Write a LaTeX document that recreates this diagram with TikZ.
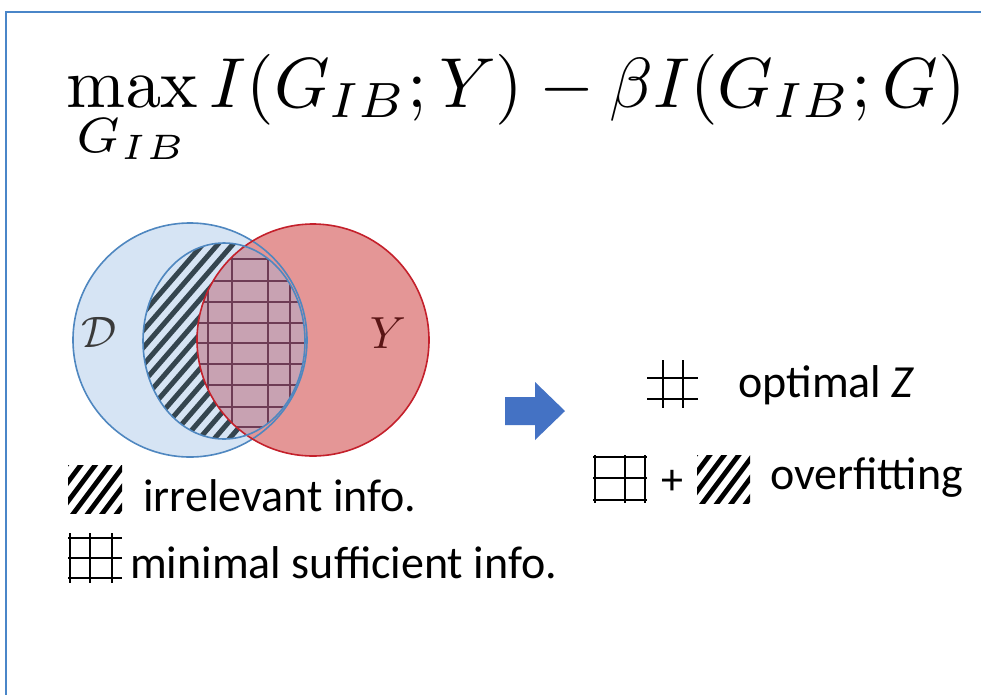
\documentclass[tikz,border=0pt]{standalone}
\usepackage[no-math]{fontspec}
\setmainfont{Carlito}
\definecolor{frameblue}{HTML}{4A86C8}
\definecolor{dfill}{HTML}{D6E4F4}
\definecolor{dline}{HTML}{4F87C0}
\definecolor{yfill}{HTML}{E49696}
\definecolor{yline}{HTML}{C4202B}
\definecolor{mixfill}{HTML}{C8A2B2}
\definecolor{gridc}{HTML}{6E3C55}
\definecolor{stripec}{HTML}{35454F}
\definecolor{arrowblue}{HTML}{4472C4}
\definecolor{dtext}{HTML}{3A3A3A}
\definecolor{ytext}{HTML}{5A1515}
\tikzset{
  legendtext/.style={anchor=base west, inner sep=0pt, font=\fontsize{46}{55}\selectfont},
  iconline/.style={black, line width=2.2pt},
  iconstripe/.style={black, line width=4.8pt},
  venngrid/.style={gridc, line width=1.6pt},
  vennstripe/.style={stripec, line width=5pt}
}
\begin{document}
\begin{tikzpicture}[x=1pt,y=-1pt]
\useasboundingbox (0,0) rectangle (981,694);
\fill[white] (0,0) rectangle (981,694);
\draw[frameblue, line width=2pt] (6,700) -- (6,12) -- (990,12);

% objective
\node[anchor=base west, inner sep=0pt, scale=7.08] (obj) at (65,107)
  {$\displaystyle\max_{G_{IB}} I(G_{IB};Y)-\beta I(G_{IB};G)$};

% Venn diagram
\coordinate (cD) at (190,340);
\coordinate (cY) at (313,340);
\coordinate (cE) at (224,341);
\fill[dfill] (cD) circle (117pt);
\fill[yfill] (cY) circle (116pt);
\begin{scope}
  \clip (cE) ellipse [x radius=81pt, y radius=98pt];
  \fill[dfill] (cE) ellipse [x radius=81pt, y radius=98pt];
  \foreach \k in {-25,...,25}
    \draw[vennstripe] (224+\k*15-130,491) -- (224+\k*15+130,191);
\end{scope}
\begin{scope}
  \clip (cE) ellipse [x radius=81pt, y radius=98pt];
  \clip (cY) circle (116pt);
  \fill[mixfill] (cE) ellipse [x radius=81pt, y radius=98pt];
  \foreach \gx in {208,232,268,290}
    \draw[venngrid] (\gx,230) -- (\gx,450);
  \foreach \gy in {259,281,302,323,343,364,385,407,427}
    \draw[venngrid] (130,\gy) -- (320,\gy);
\end{scope}
\draw[dline, line width=1.6pt] (cD) circle (117pt);
\draw[yline, line width=1.6pt] (cY) circle (116pt);
\draw[dline, line width=1.6pt] (cE) ellipse [x radius=81pt, y radius=98pt];
\node[scale=4.4, text=dtext] (dlab) at (99,332) {$\mathcal{D}$};
\node[scale=4.5, text=ytext] (ylab) at (388,333) {$Y$};

% legend: irrelevant
\begin{scope}
  \clip (68,465) rectangle (122,513);
  \foreach \k in {-3,...,6}
    \draw[iconstripe] (62+\k*14.5-30,530) -- (62+\k*14.5+30,450);
\end{scope}
\node[legendtext] (irr) at (143,511) {irrelevant info.};

% legend: minimal sufficient
\foreach \gx in {70,90,112}
  \draw[iconline] (\gx,533) -- (\gx,583);
\foreach \gy in {538,558,578}
  \draw[iconline] (68,\gy) -- (122,\gy);
\node[legendtext] (min) at (130,578) {minimal sufficient info.};

% arrow
\fill[arrowblue] (505,397) -- (535,397) -- (535,382) -- (565,411)
  -- (535,440) -- (535,425) -- (505,425) -- cycle;

% optimal Z
\foreach \gx in {663,683}
  \draw[iconline] (\gx,360) -- (\gx,408);
\foreach \gy in {378,399}
  \draw[iconline] (647,\gy) -- (698,\gy);
\node[legendtext] (opt) at (738,397) {optimal \textit{Z}};

% overfitting
\foreach \gx in {595,625,645}
  \draw[iconline] (\gx,455) -- (\gx,503);
\foreach \gy in {457,478,500}
  \draw[iconline] (593,\gy) -- (647,\gy);
\node[inner sep=0pt, font=\fontsize{44}{50}\selectfont] (plus) at (672,482) {+};
\begin{scope}
  \clip (697,455) rectangle (750,503);
  \foreach \k in {-3,...,6}
    \draw[iconstripe] (691+\k*14.5-30,520) -- (691+\k*14.5+30,440);
\end{scope}
\node[legendtext] (over) at (770,489) {overfitting};
\end{tikzpicture}
\end{document}
